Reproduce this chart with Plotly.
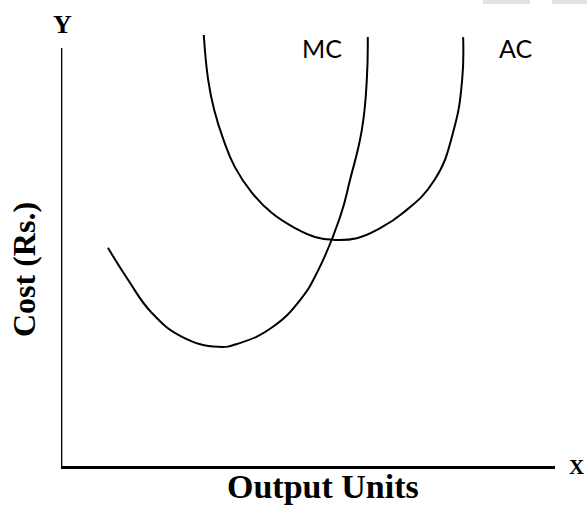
import plotly.graph_objects as go

# Marginal cost (MC) curve: output units vs cost
mc_output = [9.5, 13.6, 18.4, 24.5, 31.8, 36.2, 42.9, 48.4, 51.8, 56.5, 58.5, 60.9, 61.9, 62.1]
mc_cost = [52.2, 44.5, 36.6, 30.9, 28.5, 29.4, 33.3, 39.7, 46.2, 59.6, 68.4, 80.4, 92.3, 102.6]

# Average cost (AC) curve
ac_output = [28.9, 29.8, 31.0, 32.9, 35.2, 38.7, 42.7, 47.4, 51.4, 55.1, 59.9, 64.6, 69.2, 75.6, 79.5, 81.2, 81.4]
ac_cost = [103.1, 92.3, 85.2, 78.0, 71.5, 65.3, 60.5, 56.9, 54.8, 54.1, 54.5, 56.9, 60.5, 68.4, 80.4, 92.3, 102.6]

curve_labels = ["MC", "AC"]
x_label = "Output Units"
y_label = "Cost (Rs.)"
axis_letters = ["X", "Y"]

fig = go.Figure()
line_style = dict(color="black", width=2, shape="spline", smoothing=1.3)
fig.add_trace(go.Scatter(x=mc_output, y=mc_cost, mode="lines", line=line_style,
                         name=curve_labels[0], hoverinfo="skip"))
fig.add_trace(go.Scatter(x=ac_output, y=ac_cost, mode="lines", line=line_style,
                         name=curve_labels[1], hoverinfo="skip"))

serif = "Liberation Serif"
sans = "Lato"


def px_x(p):
    return (p - 61) / 494


def px_y(p):
    return (466 - p) / 436


fig.update_layout(
    width=587, height=510,
    margin=dict(l=61, r=32, t=30, b=44),
    paper_bgcolor="white", plot_bgcolor="white",
    showlegend=False,
    xaxis=dict(range=[0, 100], showgrid=False, zeroline=False, showticklabels=False,
               ticks="", showline=True, linecolor="black", linewidth=2.5, fixedrange=True),
    yaxis=dict(range=[0, 104.3], showgrid=False, zeroline=False, showticklabels=False,
               ticks="", showline=False, fixedrange=True),
    shapes=[
        dict(type="line", xref="x", yref="y", x0=0, x1=0, y0=-0.3, y1=100,
             line=dict(color="black", width=2.7)),
        dict(type="rect", xref="paper", yref="paper", x0=px_x(483), x1=px_x(530),
             y0=px_y(4), y1=px_y(0), fillcolor="#e2e2e2", line=dict(width=0)),
        dict(type="rect", xref="paper", yref="paper", x0=px_x(552), x1=px_x(587),
             y0=px_y(4), y1=px_y(0), fillcolor="#e2e2e2", line=dict(width=0)),
    ],
    annotations=[
        dict(text="<b>" + axis_letters[1] + "</b>", xref="paper", yref="paper", x=px_x(62), y=px_y(25),
             xanchor="center", yanchor="middle", showarrow=False,
             font=dict(family=serif, size=26, color="black")),
        dict(text="<b>" + axis_letters[0] + "</b>", xref="paper", yref="paper", x=px_x(576), y=px_y(467),
             xanchor="center", yanchor="middle", showarrow=False,
             font=dict(family=serif, size=21, color="black")),
        dict(text="<b>" + x_label + "</b>", xref="paper", yref="paper", x=px_x(323),
             y=px_y(486), xanchor="center", yanchor="middle", showarrow=False,
             font=dict(family=serif, size=34, color="black")),
        dict(text="<b>" + y_label + "</b>", xref="paper", yref="paper", x=px_x(24),
             y=px_y(270), xanchor="center", yanchor="middle", showarrow=False,
             textangle=-90, font=dict(family=serif, size=32, color="black")),
        dict(text=curve_labels[0], xref="paper", yref="paper", x=px_x(322), y=px_y(48),
             xanchor="center", yanchor="middle", showarrow=False,
             font=dict(family=sans, size=25, color="black")),
        dict(text=curve_labels[1], xref="paper", yref="paper", x=px_x(515), y=px_y(48),
             xanchor="center", yanchor="middle", showarrow=False,
             font=dict(family=sans, size=25, color="black")),
    ],
)

fig.write_html("out.html", config={"displayModeBar": False},
               post_script="document.body.style.margin='0';")
